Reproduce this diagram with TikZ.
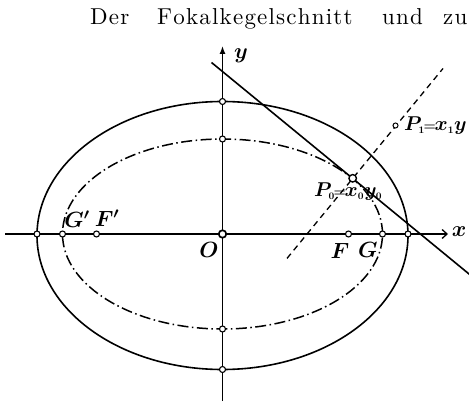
\RequirePackage{fix-cm}
\documentclass[tikz,border=0pt]{standalone}
\usepackage{fontspec}
\newfontfamily\hdrfont{lmroman10-regular.otf}
\usetikzlibrary{arrows.meta}
\makeatletter
\def\myspaced#1{\myspaced@i#1\relax}
\def\myspaced@i#1{\ifx#1\relax\else#1\kern1.2pt\expandafter\myspaced@i\fi}
\makeatother
\newcommand\sss[1]{{\scriptscriptstyle #1}}
\begin{document}
\begin{tikzpicture}[x=1pt,y=-1pt,
  pt/.style={circle,draw,fill=white,inner sep=0pt,minimum size=6pt,line width=1.1pt},
  bigpt/.style={pt,minimum size=7.5pt,line width=1.7pt},
  smallpt/.style={pt,minimum size=5pt,line width=1pt},
  lbl/.style={font=\fontsize{22}{24}\selectfont\boldmath,inner sep=0pt},
  plbl/.style={font=\fontsize{20}{22}\selectfont\boldmath,inner sep=0pt},
  hdr/.style={font=\hdrfont\fontsize{23}{25}\selectfont,inner sep=0pt,anchor=base west},
  curve/.style={line width=1.6pt},
  dashdot/.style={line width=1.5pt,dash pattern=on 11pt off 3.5pt on 1.5pt off 3.5pt},
  axis/.style={line width=1.3pt},
  normalline/.style={line width=1.3pt,dash pattern=on 6pt off 4.5pt}]
\useasboundingbox (0,0) rectangle (469,404);

% header
\node[hdr] (h1) at (90,25) {\myspaced{Der}};
\node[hdr] (h2) at (157,25) {\myspaced{Fokalkegelschnitt}};
\node[hdr] (h3) at (382,25) {\myspaced{und}};
\node[hdr] (h4) at (443,25) {\myspaced{zu}};

% conics
\draw[curve] (222.5,235.5) ellipse [x radius=185.5pt, y radius=134pt];
\draw[dashdot] (222.5,234) ellipse [x radius=160pt, y radius=95pt];

% axes
\coordinate (xL) at (5,234);
\coordinate (xR) at (448,234);
\coordinate (yB) at (222.5,401);
\coordinate (yT) at (222.5,46);
\draw[axis,-{Straight Barb[length=5pt,width=9pt,line width=1.3pt]}] (xL) -- (xR);
\draw[axis,-{Latex[length=8pt,width=6pt]}] (yB) -- (yT);

% tangent and normal at P0
\coordinate (T1) at (211.5,62.5);
\coordinate (T2) at (480,283);
\draw[curve] (T1) -- (T2);
\coordinate (N1) at (287,258.4);
\coordinate (N2) at (443,68.5);
\draw[normalline] (N1) -- (N2);

% points
\node[pt] (Aw) at (37,234) {};
\node[pt] (Gp) at (62.5,234) {};
\node[pt] (Fp) at (96.5,234) {};
\node[bigpt] (O) at (222.5,234) {};
\node[pt] (F) at (348.5,234) {};
\node[pt] (G) at (382.5,234) {};
\node[pt] (Ae) at (408,234) {};
\node[pt] (Bn) at (222.5,101.5) {};
\node[pt] (bn) at (222.5,139) {};
\node[pt] (bs) at (222.5,329) {};
\node[pt] (Bs) at (222.5,369.5) {};
\node[pt,minimum size=7.5pt,line width=1.4pt] (P0) at (352.7,178.3) {};
\node[smallpt] (P1) at (395.5,125.5) {};

% labels
\node[lbl] (ly) at (241,56) {$y$};
\node[lbl] (lx) at (459,232) {$x$};
\node[lbl] (lO) at (209,250) {$O$};
\node[lbl] (lGp) at (77,219) {$G'$};
\node[lbl] (lFp) at (107,218) {$F'$};
\node[lbl] (lF) at (340,251) {$F$};
\node[lbl] (lG) at (368,250) {$G$};
\node[plbl,anchor=base west] (lP0) at (314,196) {$P_\sss0\mkern-1mu{\scriptstyle=}\mkern-1mu x_\sss0y_\sss0$};
\node[plbl,anchor=base west] (lP1) at (404,130) {$P_\sss1\mkern-1mu{\scriptstyle=}\mkern-1mu x_\sss1y$};
\end{tikzpicture}
\end{document}
